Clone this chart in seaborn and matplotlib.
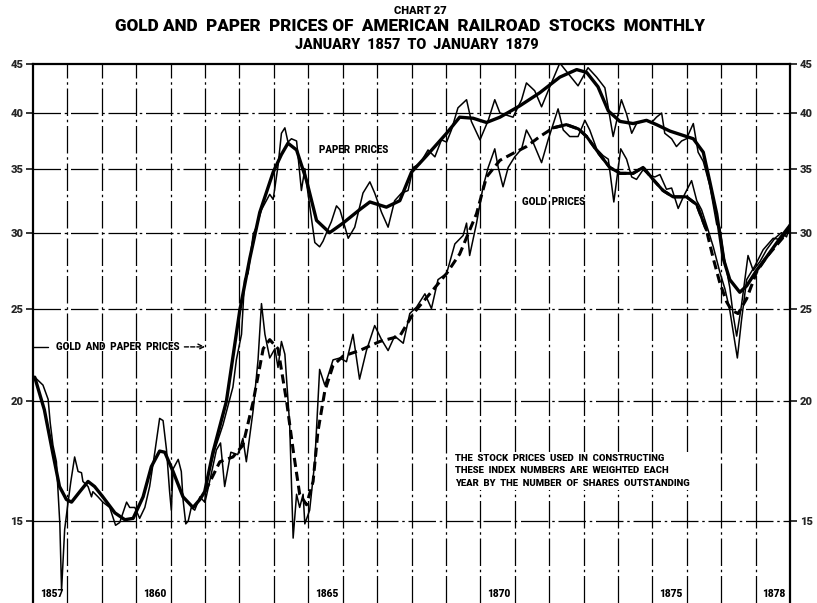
import matplotlib
matplotlib.use("Agg")
import numpy as np
import pandas as pd
import matplotlib.pyplot as plt
import seaborn as sns
from matplotlib.ticker import FixedLocator, FixedFormatter, NullLocator

sns.set_style("white")
plt.rcParams['font.family'] = ['Roboto', 'DejaVu Sans']

# Monthly index of paper prices (identical with gold prices before 1862)
paper_years = [
    1857.05, 1857.29, 1857.44, 1857.50, 1857.58, 1857.68, 1857.78, 1857.83, 1857.92,
    1858.00, 1858.10, 1858.21, 1858.31, 1858.41, 1858.45, 1858.60, 1858.70, 1858.74,
    1858.89, 1859.03, 1859.23, 1859.40, 1859.52, 1859.72, 1859.81, 1859.96, 1860.10,
    1860.25, 1860.39, 1860.54, 1860.68, 1860.78, 1860.88, 1860.97, 1861.02, 1861.07,
    1861.22, 1861.31, 1861.36, 1861.44, 1861.51, 1861.60, 1861.70, 1861.85, 1861.99,
    1862.04, 1862.28, 1862.52, 1862.81, 1862.91, 1863.06, 1863.15, 1863.25, 1863.40,
    1863.49, 1863.64, 1863.88, 1863.98, 1864.12, 1864.22, 1864.32, 1864.41, 1864.51,
    1864.66, 1864.80, 1864.90, 1864.99, 1865.19, 1865.33, 1865.43, 1865.53, 1865.67,
    1865.82, 1865.92, 1866.16, 1866.35, 1866.59, 1866.79, 1866.93, 1867.13, 1867.32,
    1867.51, 1867.71, 1867.90, 1868.05, 1868.24, 1868.48, 1868.68, 1868.87, 1869.02,
    1869.16, 1869.35, 1869.60, 1869.74, 1869.99, 1870.23, 1870.42, 1870.57, 1870.95,
    1871.20, 1871.34, 1871.58, 1871.78, 1872.02, 1872.31, 1872.55, 1872.84, 1873.13,
    1873.38, 1873.62, 1873.86, 1874.10, 1874.25, 1874.40, 1874.54, 1874.78, 1874.98,
    1875.12, 1875.27, 1875.36, 1875.56, 1875.70, 1875.85, 1875.99, 1876.19, 1876.33,
    1876.48, 1876.67, 1876.87, 1876.96, 1877.11, 1877.25, 1877.35, 1877.45, 1877.59,
    1877.78, 1877.93, 1878.13, 1878.32, 1878.56, 1878.75, 1878.90, 1879.05,
]
paper_values = [
    21.2, 20.8, 20.1, 19.0, 18.0, 17.3, 14.9, 12.7, 14.7,
    15.5, 16.5, 17.5, 16.9, 16.85, 16.5, 16.3, 15.9, 16.1,
    15.9, 15.7, 15.5, 14.85, 14.95, 15.7, 15.5, 15.5, 15.1,
    15.5, 16.3, 17.7, 19.2, 19.1, 17.8, 16.1, 15.4, 17.0,
    17.4, 16.9, 15.8, 14.9, 15.0, 15.5, 15.4, 15.9, 15.7,
    16.5, 17.8, 18.9, 20.7, 22.1, 23.5, 26.8, 27.2, 29.9,
    30.4, 31.7, 32.9, 32.5, 35.2, 38.1, 38.6, 37.3, 37.6,
    37.4, 33.2, 35.0, 33.0, 29.3, 29.0, 29.4, 30.0, 30.8,
    32.0, 31.7, 29.6, 30.4, 33.0, 33.9, 33.0, 31.5, 30.4,
    32.4, 33.0, 33.2, 35.1, 35.4, 36.6, 36.0, 37.5, 37.3,
    38.4, 40.5, 41.3, 39.2, 37.5, 39.3, 41.3, 40.0, 39.6,
    41.3, 43.0, 42.2, 40.6, 42.6, 45.1, 44.0, 42.7, 44.6,
    43.6, 42.5, 37.8, 41.3, 39.9, 38.1, 39.0, 39.3, 39.1,
    39.6, 40.0, 38.1, 37.6, 36.9, 37.4, 37.6, 39.0, 36.4,
    35.6, 33.6, 30.6, 30.4, 28.0, 26.3, 24.6, 23.4, 25.2,
    28.4, 27.4, 28.0, 28.8, 29.6, 30.0, 29.7, 31.0,
]

# Smoothed trend of paper prices
paper_trend_years = [
    1857.05, 1857.33, 1857.57, 1857.77, 1857.97, 1858.12, 1858.36, 1858.60, 1858.79,
    1859.03, 1859.38, 1859.67, 1859.91, 1860.20, 1860.44, 1860.68, 1860.83, 1861.07,
    1861.36, 1861.65, 1861.85, 1861.99, 1862.23, 1862.62, 1863.01, 1863.30, 1863.59,
    1863.98, 1864.22, 1864.41, 1864.66, 1864.95, 1865.24, 1865.62, 1866.01, 1866.49,
    1866.79, 1867.27, 1867.66, 1868.00, 1868.44, 1869.02, 1869.40, 1869.79, 1870.18,
    1870.57, 1871.15, 1871.73, 1872.31, 1872.80, 1873.09, 1873.42, 1873.72, 1874.06,
    1874.44, 1874.83, 1875.12, 1875.51, 1875.80, 1876.19, 1876.48, 1876.67, 1876.87,
    1877.06, 1877.25, 1877.54, 1877.74, 1878.03, 1878.32, 1878.71, 1879.05,
]
paper_trend_values = [
    21.2, 19.6, 17.7, 16.3, 15.8, 15.7, 16.1, 16.5, 16.3,
    15.9, 15.3, 15.05, 15.1, 15.9, 17.1, 17.75, 17.7, 16.9,
    15.9, 15.5, 15.8, 16.1, 17.7, 20.0, 24.9, 28.2, 31.5,
    34.7, 36.2, 37.2, 36.6, 34.0, 30.9, 30.0, 30.7, 31.7,
    32.3, 31.9, 32.4, 34.7, 36.1, 38.1, 39.6, 39.5, 39.1,
    39.6, 40.7, 42.0, 43.6, 44.4, 44.1, 42.6, 40.2, 39.2,
    39.0, 39.3, 38.9, 38.3, 38.0, 37.6, 36.4, 33.9, 31.4,
    28.2, 26.8, 26.0, 26.4, 27.4, 28.3, 29.6, 30.7,
]

# Monthly index of gold prices from 1862
gold_years = [
    1862.00, 1862.15, 1862.33, 1862.45, 1862.57, 1862.75, 1862.95, 1863.10, 1863.20,
    1863.40, 1863.54, 1863.64, 1863.74, 1863.88, 1864.03, 1864.12, 1864.22, 1864.32,
    1864.46, 1864.56, 1864.66, 1864.75, 1864.85, 1864.90, 1865.04, 1865.19, 1865.33,
    1865.48, 1865.58, 1865.72, 1865.92, 1866.11, 1866.30, 1866.49, 1866.69, 1866.93,
    1867.13, 1867.32, 1867.51, 1867.76, 1867.95, 1868.15, 1868.39, 1868.58, 1868.77,
    1869.02, 1869.26, 1869.50, 1869.60, 1869.69, 1869.89, 1870.08, 1870.23, 1870.42,
    1870.52, 1870.66, 1870.81, 1871.00, 1871.20, 1871.34, 1871.53, 1871.78, 1871.97,
    1872.26, 1872.41, 1872.60, 1872.84, 1873.04, 1873.18, 1873.38, 1873.57, 1873.72,
    1873.88, 1874.08, 1874.25, 1874.40, 1874.54, 1874.73, 1874.88, 1875.07, 1875.22,
    1875.41, 1875.56, 1875.75, 1875.90, 1876.14, 1876.29, 1876.43, 1876.62, 1876.77,
    1876.96, 1877.11, 1877.25, 1877.47, 1877.59, 1877.74, 1877.98, 1878.22, 1878.51,
    1878.75, 1878.90, 1879.05,
]
gold_values = [
    15.7, 16.6, 17.8, 18.1, 16.3, 17.7, 17.6, 18.3, 17.3,
    19.6, 22.1, 25.3, 23.5, 22.2, 22.7, 21.7, 23.1, 22.4,
    18.9, 14.4, 16.0, 15.5, 16.0, 14.9, 15.4, 17.3, 21.6,
    20.8, 21.3, 22.1, 22.2, 22.0, 23.5, 21.1, 22.6, 24.0,
    23.2, 22.6, 23.4, 23.0, 24.7, 25.1, 25.9, 25.0, 26.8,
    27.2, 29.2, 29.8, 30.7, 28.4, 30.7, 33.5, 35.1, 36.7,
    35.1, 33.5, 35.1, 36.0, 36.7, 38.4, 37.3, 35.5, 37.5,
    40.4, 38.4, 37.8, 37.8, 39.3, 38.4, 36.7, 36.1, 35.8,
    32.3, 36.7, 35.8, 34.3, 34.1, 34.9, 34.5, 34.3, 34.5,
    33.3, 33.4, 31.8, 32.7, 34.0, 32.4, 31.7, 30.2, 29.0,
    27.3, 26.2, 24.9, 22.2, 24.3, 26.8, 27.7, 28.8, 29.6,
    29.5, 30.0, 31.0,
]

# Smoothed trend of gold prices
gold_trend_years = [
    1862.00, 1862.43, 1862.81, 1863.10, 1863.40, 1863.69, 1863.88, 1864.12, 1864.37,
    1864.56, 1864.75, 1864.95, 1865.14, 1865.28, 1865.48, 1865.72, 1866.01, 1866.49,
    1867.08, 1867.66, 1868.05, 1868.53, 1869.02, 1869.40, 1869.89, 1870.18, 1870.57,
    1870.95, 1871.34, 1871.73, 1872.12, 1872.50, 1872.85, 1873.09, 1873.47, 1873.76,
    1874.06, 1874.44, 1874.73, 1875.02, 1875.31, 1875.60, 1875.99, 1876.29, 1876.57,
    1876.77, 1876.96, 1877.16, 1877.30, 1877.49, 1877.74, 1878.03, 1878.32, 1878.71,
    1879.05,
]
gold_trend_values = [
    16.1, 17.3, 17.5, 18.0, 20.0, 22.7, 23.2, 22.7, 20.0,
    17.8, 16.0, 15.6, 16.5, 18.6, 20.5, 21.8, 22.3, 22.6,
    23.1, 23.4, 24.7, 25.9, 27.2, 28.5, 31.4, 34.3, 35.7,
    36.3, 36.9, 37.8, 38.6, 38.9, 38.5, 37.8, 36.2, 35.1,
    34.6, 34.6, 35.1, 34.1, 33.2, 32.7, 32.7, 32.1, 30.2,
    28.2, 26.6, 25.4, 24.9, 24.7, 25.6, 27.3, 28.3, 29.4,
    30.4,
]

y_ticks = [15, 20, 25, 30, 35, 40, 45]
grid_years = list(range(1858, 1879))
year_labels = [1857, 1860, 1865, 1870, 1875, 1878]

paper = pd.DataFrame({"year": paper_years, "index": paper_values})
paper_trend = pd.DataFrame({"year": paper_trend_years, "index": paper_trend_values})
gold = pd.DataFrame({"year": gold_years, "index": gold_values})
gold_trend = pd.DataFrame({"year": gold_trend_years, "index": gold_trend_values})

W, H = 817, 603
fig = plt.figure(figsize=(W / 100, H / 100), dpi=100)
ax = fig.add_axes([33 / W, 0.0, (790 - 33) / W, 1 - 64 / H])
ax.set_yscale("log")
ax.set_xlim(1857, 1879)
ax.set_ylim(12.32, 45)

grid_style = dict(color="black", lw=0.9, ls=(0, (22, 3, 2, 3)), zorder=1)
for yr in grid_years:
    ax.axvline(yr, **grid_style)
for v in y_ticks[:-1]:
    ax.axhline(v, **grid_style)

thin = dict(color="black", lw=1.1, estimator=None, sort=False, zorder=3)
thick = dict(color="black", lw=2.4, estimator=None, sort=False, zorder=4)

sns.lineplot(data=paper, x="year", y="index", ax=ax, **thin)
sns.lineplot(data=gold, x="year", y="index", ax=ax, **thin)
sns.lineplot(data=paper_trend, x="year", y="index", ax=ax, **thick)
sns.lineplot(data=gold_trend, x="year", y="index", ax=ax, dashes=False,
             **{**thick, "lw": 2.2})
ax.lines[-1].set_linestyle((0, (3, 1.6)))
solid_part = gold_trend[(gold_trend["year"] >= 1871.9) & (gold_trend["year"] <= 1876.6)]
sns.lineplot(data=solid_part, x="year", y="index", ax=ax, **{**thick, "lw": 2.2})

for sp in ["left", "right", "top"]:
    ax.spines[sp].set_color("black")
    ax.spines[sp].set_linewidth(1.6)
ax.spines["bottom"].set_visible(False)

ax.set_xticks([])
ax.set_xlabel("")
ax.set_ylabel("")
ax.yaxis.set_major_locator(FixedLocator(y_ticks))
ax.yaxis.set_major_formatter(FixedFormatter([str(v) for v in y_ticks]))
ax.yaxis.set_minor_locator(NullLocator())
ax.tick_params(axis="y", which="major", direction="out", length=5, width=1.3,
               left=True, right=True, labelleft=True, labelright=True,
               labelsize=8, pad=2)
for lab in ax.get_yticklabels():
    lab.set_fontweight("black")

bold = dict(fontweight="black", color="black")
for yr in year_labels:
    ax.text(yr + 0.2, 12.58, str(yr), ha="left", va="center", fontsize=7.3, **bold)

ax.text(1866.33, 36.6, "PAPER  PRICES", ha="center", va="center", fontsize=7, **bold)
ax.text(1872.14, 32.3, "GOLD  PRICES", ha="center", va="center", fontsize=7, **bold)

# bracket for the common period of gold and paper prices
ax.text(1859.45, 22.8, "GOLD  AND  PAPER  PRICES", ha="center", va="center",
        fontsize=7, **bold)
ax.plot([1857.0, 1857.45], [22.8, 22.8], color="black", lw=1.0, zorder=5)
ax.plot([1857.0, 1857.0], [22.5, 23.1], color="black", lw=1.2, zorder=5)
ax.annotate("", xy=(1862.0, 22.8), xytext=(1861.4, 22.8),
            arrowprops=dict(arrowstyle="->", color="black", lw=1.0,
                            linestyle=(0, (3, 1.5)), shrinkA=0, shrinkB=0))

ax.text(1869.26, 16.92,
        "THE  STOCK  PRICES  USED  IN  CONSTRUCTING\n"
        "THESE  INDEX  NUMBERS  ARE  WEIGHTED  EACH\n"
        "YEAR  BY  THE  NUMBER  OF  SHARES  OUTSTANDING",
        ha="left", va="center", fontsize=6.8, linespacing=1.45, zorder=6,
        bbox=dict(facecolor="white", edgecolor="none", pad=1.5), **bold)

fig.text(0.514, 1 - 11 / H, "CHART 27", ha="center", va="center", fontsize=8, **bold)
fig.text(0.502, 1 - 26 / H, "GOLD AND  PAPER  PRICES OF  AMERICAN  RAILROAD  STOCKS  MONTHLY",
         ha="center", va="center", fontsize=12.3, **bold)
fig.text(0.51, 1 - 45 / H, "JANUARY  1857  TO  JANUARY  1879", ha="center", va="center",
         fontsize=10.3, **bold)

fig.savefig("out.png", dpi=100, facecolor="white")
